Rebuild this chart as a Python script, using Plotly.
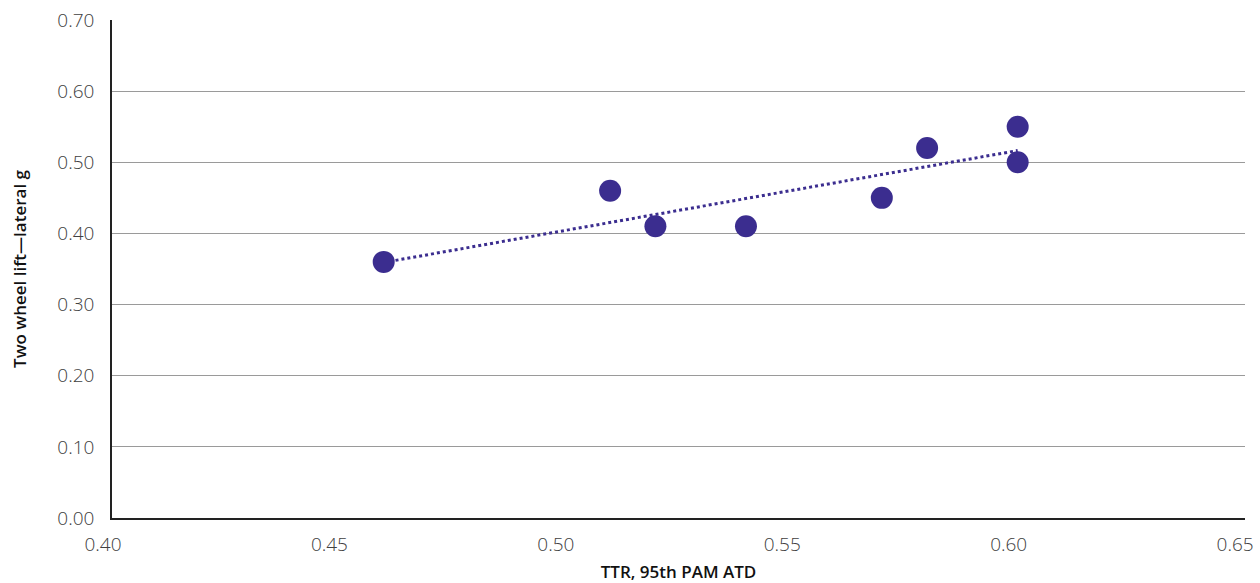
import numpy as np
import plotly.graph_objects as go

ttr = [0.46, 0.51, 0.52, 0.54, 0.57, 0.58, 0.60, 0.60]
lift_g = [0.36, 0.46, 0.41, 0.41, 0.45, 0.52, 0.55, 0.50]
x_ticks = [0.40, 0.45, 0.50, 0.55, 0.60, 0.65]
y_ticks = [0.00, 0.10, 0.20, 0.30, 0.40, 0.50, 0.60, 0.70]

color = "#3b2d8f"

slope, intercept = np.polyfit(ttr, lift_g, 1)
tx = np.linspace(min(ttr), max(ttr), 50)
ty = slope * tx + intercept

fig = go.Figure()
fig.add_trace(go.Scatter(x=tx, y=ty, mode="lines",
                         line=dict(color=color, width=3, dash="dot"),
                         hoverinfo="skip", showlegend=False))
fig.add_trace(go.Scatter(x=ttr, y=lift_g, mode="markers",
                         marker=dict(color=color, size=22), showlegend=False))

tick_font = dict(family="'Open Sans', sans-serif", size=19, color="#404040", weight=300)
title_font = dict(family="'Open Sans', sans-serif", size=17, color="#111111", weight=600)

fig.update_layout(
    width=1260, height=583,
    margin=dict(l=112, r=15, t=20, b=65),
    paper_bgcolor="white", plot_bgcolor="white",
    font=dict(family="'Open Sans', sans-serif", color="#333333"),
    xaxis=dict(range=[0.40, 0.6502], tickvals=x_ticks,
               ticktext=[f"{v:.2f}" for v in x_ticks],
               showgrid=False, zeroline=False, automargin=False,
               showline=True, linecolor="#222222", linewidth=2,
               ticks="", ticklabelstandoff=8, ticklabelshift=-9,
               ticklabeloverflow="allow",
               tickfont=tick_font,
               title=dict(text="TTR, 95th PAM ATD", standoff=20, font=title_font)),
    yaxis=dict(range=[0, 0.70], tickvals=y_ticks,
               ticktext=[f"{v:.2f}" for v in y_ticks],
               showgrid=True, gridcolor="#9a9a9a", gridwidth=1,
               zeroline=False, automargin=False,
               showline=True, linecolor="#222222", linewidth=1.5,
               ticks="", ticklabelstandoff=12, ticklabeloverflow="allow",
               tickfont=tick_font,
               title=dict(text="Two wheel lift—lateral g", standoff=26, font=title_font)),
)

fig.write_html("out.html")
